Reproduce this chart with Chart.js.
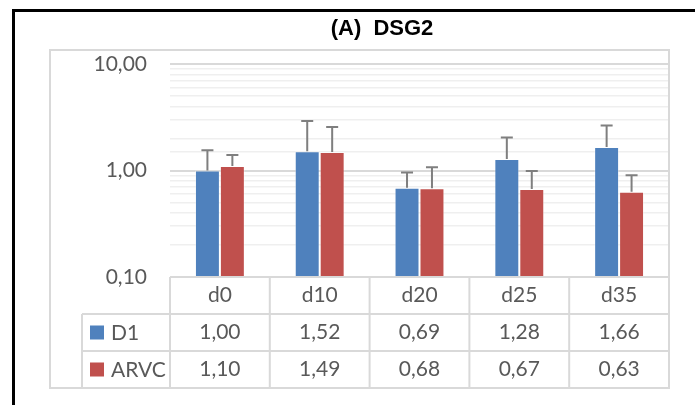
<!DOCTYPE html>
<html>
<head>
<meta charset="utf-8">
<script src="https://cdn.jsdelivr.net/npm/chart.js@4.4.1/dist/chart.umd.min.js"></script>
<style>
  body { margin: 0; background: #fff; }
  canvas { display: block; }
</style>
</head>
<body>
<canvas id="chart" width="695" height="405"></canvas>
<script>
const categories = ['d0', 'd10', 'd20', 'd25', 'd35'];
const d1Values = [1.00, 1.52, 0.69, 1.28, 1.66];
const arvcValues = [1.10, 1.49, 0.68, 0.67, 0.63];
const d1Errors = [0.55, 1.39, 0.27, 0.76, 0.99];
const arvcErrors = [0.30, 1.07, 0.39, 0.32, 0.27];
const yTickLabels = [0.1, 1, 10];

const textGrey = '#595959';
const lineGrey = '#d9d9d9';
const font = 'Lato, "Open Sans", sans-serif';

function fmt(v) {
    return v.toFixed(2).replace('.', ',');
}

const errorBars = {
    id: 'errorBars',
    afterDatasetsDraw(chart) {
        const ctx = chart.ctx;
        const y = chart.scales.y;
        ctx.save();
        ctx.strokeStyle = '#7f7f7f';
        ctx.lineWidth = 2;
        chart.data.datasets.forEach((ds, i) => {
            chart.getDatasetMeta(i).data.forEach((bar, j) => {
                const top = y.getPixelForValue(ds.data[j] + ds.errors[j]);
                ctx.beginPath();
                ctx.moveTo(bar.x, bar.y);
                ctx.lineTo(bar.x, top);
                ctx.moveTo(bar.x - 6, top);
                ctx.lineTo(bar.x + 6, top);
                ctx.stroke();
            });
        });
        ctx.restore();
    }
};

// frame, title and the data table under the plot
const dataTable = {
    id: 'dataTable',
    afterDraw(chart) {
        const ctx = chart.ctx;
        const area = chart.chartArea;
        const x = chart.scales.x;
        const rowH = 37;
        const half = (x.getPixelForValue(1) - x.getPixelForValue(0)) / 2;
        const legendLeft = 82;
        const frameLeft = 50, frameTop = 50;
        const rows = [area.bottom, area.bottom + rowH, area.bottom + rowH * 2, area.bottom + rowH * 3];

        ctx.save();
        // outer black border
        ctx.fillStyle = '#000';
        ctx.fillRect(12, 9, 3, 405);
        ctx.fillRect(12, 9, 695, 3);

        ctx.strokeStyle = lineGrey;
        ctx.lineWidth = 2;
        ctx.strokeRect(frameLeft, frameTop, area.right - frameLeft, rows[3] - frameTop);

        ctx.beginPath();
        ctx.moveTo(area.left, rows[0]);
        ctx.lineTo(area.right, rows[0]);
        for (let r = 1; r <= 2; r++) {
            ctx.moveTo(legendLeft, rows[r]);
            ctx.lineTo(area.right, rows[r]);
        }
        ctx.moveTo(legendLeft, rows[1]);
        ctx.lineTo(legendLeft, rows[3]);
        for (let i = 0; i <= categories.length; i++) {
            const cx = x.getPixelForValue(i) - half;
            ctx.moveTo(cx, rows[0]);
            ctx.lineTo(cx, rows[3]);
        }
        ctx.stroke();

        ctx.fillStyle = textGrey;
        ctx.font = '21px ' + font;
        ctx.textAlign = 'center';
        ctx.textBaseline = 'middle';
        categories.forEach((c, i) => {
            const cx = x.getPixelForValue(i);
            ctx.fillText(c, cx, rows[0] + rowH / 2);
        });
        chart.data.datasets.forEach((ds, r) => {
            const cy = rows[r + 1] + rowH / 2;
            ds.data.forEach((v, i) => {
                ctx.fillStyle = textGrey;
                ctx.textAlign = 'center';
                ctx.fillText(fmt(v), x.getPixelForValue(i), cy);
            });
            ctx.fillStyle = ds.backgroundColor;
            ctx.fillRect(legendLeft + 8, cy - 7, 14, 14);
            ctx.fillStyle = textGrey;
            ctx.textAlign = 'left';
            ctx.fillText(ds.label, legendLeft + 29, cy + 1);
        });

        ctx.fillStyle = '#000';
        ctx.font = 'bold 22px "Liberation Sans", Arial, sans-serif';
        ctx.textAlign = 'center';
        ctx.fillText('(A)  DSG2', 382, 29);
        ctx.restore();
    }
};

new Chart(document.getElementById('chart'), {
    type: 'bar',
    data: {
        labels: categories,
        datasets: [{
            label: 'D1',
            data: d1Values,
            errors: d1Errors,
            backgroundColor: '#4f81bd',
            borderColor: 'rgba(255,255,255,0.35)',
            borderWidth: 1
        }, {
            label: 'ARVC',
            data: arvcValues,
            errors: arvcErrors,
            backgroundColor: '#c0504d',
            borderColor: 'rgba(255,255,255,0.35)',
            borderWidth: 1
        }]
    },
    options: {
        responsive: false,
        animation: false,
        devicePixelRatio: 1,
        layout: {
            padding: { left: 0, right: 26, top: 64, bottom: 128 }
        },
        datasets: {
            bar: { categoryPercentage: 0.5, barPercentage: 1.0 }
        },
        plugins: {
            legend: { display: false },
            title: { display: false },
            tooltip: { enabled: false }
        },
        scales: {
            x: {
                display: false
            },
            y: {
                type: 'logarithmic',
                min: 0.1,
                max: 10,
                afterFit(scale) { scale.width = 170; },
                border: { display: false },
                grid: {
                    drawTicks: false,
                    color: (c) => yTickLabels.includes(c.tick.value) ? lineGrey : '#efefef',
                    lineWidth: (c) => yTickLabels.includes(c.tick.value) ? 2 : 1.5
                },
                ticks: {
                    autoSkip: false,
                    padding: 23,
                    color: textGrey,
                    font: { family: font, size: 21 },
                    callback: (v) => yTickLabels.includes(v) ? fmt(v) : ''
                }
            }
        }
    },
    plugins: [errorBars, dataTable]
});
</script>
</body>
</html>
